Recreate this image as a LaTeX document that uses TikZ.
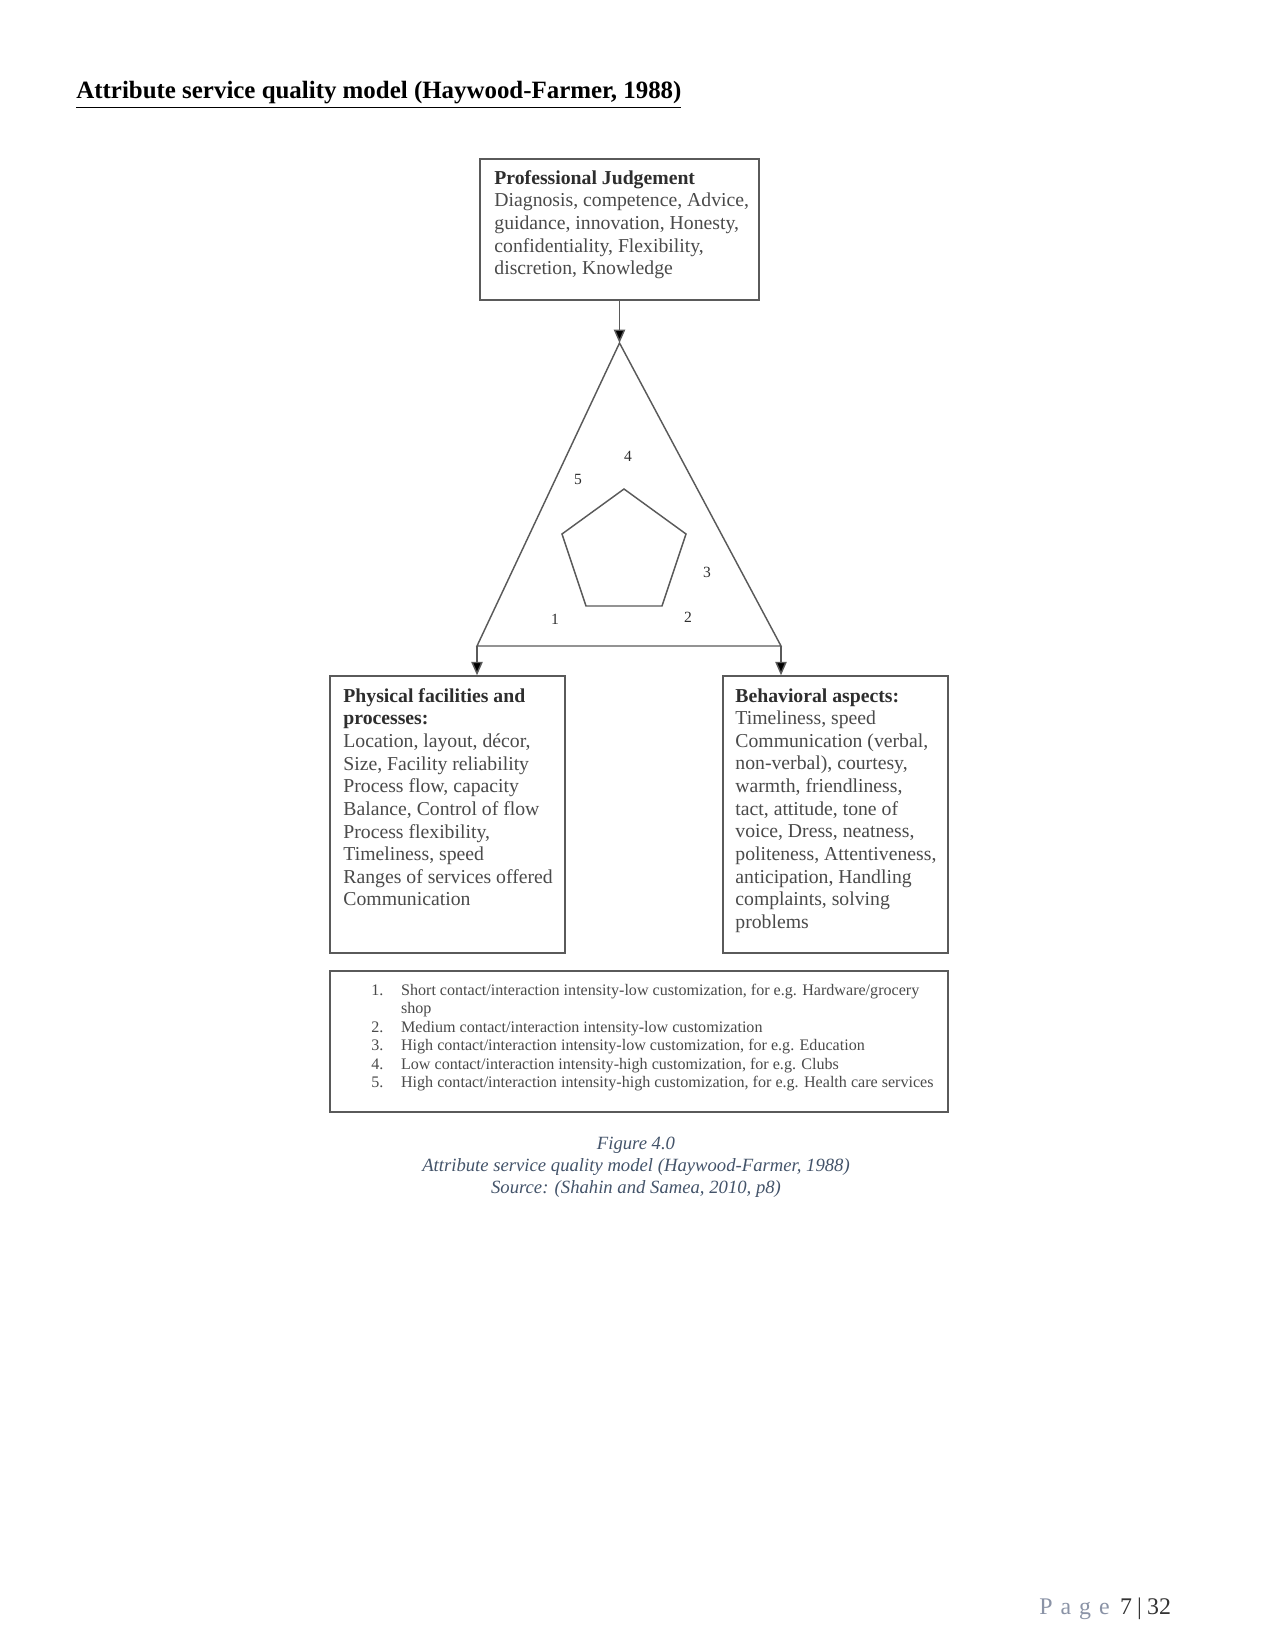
\documentclass[tikz,border=0pt]{standalone}
\usepackage{fontspec}
\setmainfont{Liberation Serif}
\usetikzlibrary{arrows.meta,fit}
\definecolor{boxline}{HTML}{5A5A5A}
\definecolor{bodytext}{HTML}{4A4A4A}
\definecolor{headtext}{HTML}{2E2E2E}
\definecolor{captext}{HTML}{44546A}
\definecolor{pagegray}{HTML}{8A93A6}
\definecolor{pagedark}{HTML}{333333}
\tikzset{
  box/.style={draw=boxline, line width=0.7pt, inner sep=0pt},
  boxtext/.style={inner sep=0pt, anchor=north west, align=left, text=bodytext,
    font=\fontsize{9.5}{10.9}\selectfont},
  shape line/.style={draw=boxline, line width=0.7pt},
  arr/.style={draw=boxline, line width=0.7pt, -{Triangle[length=6.5pt,width=5.5pt,fill=black]}},
  num/.style={inner sep=0pt, text=headtext, font=\fontsize{7.5}{9}\selectfont},
  legend/.style={inner sep=0pt, anchor=north west, align=left, text=bodytext,
    font=\fontsize{7.75}{8.9}\selectfont},
  caption/.style={inner sep=0pt, text=captext, font=\fontsize{9}{11}\selectfont\itshape}
}
\begin{document}
\begin{tikzpicture}[x=0.4818pt,y=-0.4818pt]
\useasboundingbox[fill=white] (0,0) rectangle (1275,1650);

% title
\node[inner sep=0pt, anchor=base west, font=\fontsize{12}{14}\selectfont\bfseries] (title) at (76,99)
  {\underline{Attribute service quality model (Haywood-Farmer, 1988)}};

% boxes
\node[box, fit={(480,159) (759,300)}] (pj) {};
\node[box, fit={(330,676) (565,953)}] (phys) {};
\node[box, fit={(723,676) (948,953)}] (beh) {};
\node[box, fit={(330,971) (948,1112)}] (leg) {};

% box texts
\node[boxtext] (pjtext) at (494,170) {\textcolor{headtext}{\bfseries Professional Judgement}\\
Diagnosis, competence, Advice,\\
guidance, innovation, Honesty,\\
confidentiality, Flexibility,\\
discretion, Knowledge};

\node[boxtext] (phystext) at (343,688) {\textcolor{headtext}{\bfseries Physical facilities and}\\
\textcolor{headtext}{\bfseries processes:}\\
Location, layout, d\'ecor,\\
Size, Facility reliability\\
Process flow, capacity\\
Balance, Control of flow\\
Process flexibility,\\
Timeliness, speed\\
Ranges of services offered\\
Communication};

\node[boxtext] (behtext) at (735,688) {\textcolor{headtext}{\bfseries Behavioral aspects:}\\
Timeliness, speed\\
Communication (verbal,\\
non-verbal), courtesy,\\
warmth, friendliness,\\
tact, attitude, tone of\\
voice, Dress, neatness,\\
politeness, Attentiveness,\\
anticipation, Handling\\
complaints, solving\\
problems};

% legend
\node[legend] (legtext) at (371,982) {%
\begin{tabular}{@{}l@{\hspace{8.5pt}}l@{}}
1. & Short contact/interaction intensity-low customization, for e.g. Hardware/grocery\\
   & shop\\
2. & Medium contact/interaction intensity-low customization\\
3. & High contact/interaction intensity-low customization, for e.g. Education\\
4. & Low contact/interaction intensity-high customization, for e.g. Clubs\\
5. & High contact/interaction intensity-high customization, for e.g. Health care services
\end{tabular}};

% triangle
\coordinate (apex) at (619.5,343);
\coordinate (bl) at (477,646);
\coordinate (br) at (781,646);
\draw[shape line, line join=miter] (apex) -- (bl) -- (br) -- cycle;

% pentagon
\coordinate (p1) at (624,489);
\coordinate (p2) at (562,534);
\coordinate (p3) at (586,606);
\coordinate (p4) at (662,606);
\coordinate (p5) at (686,534);
\draw[shape line] (p1) -- (p2) -- (p3) -- (p4) -- (p5) -- cycle;

% numbers
\node[num] (n1) at (555,619) {1};
\node[num] (n2) at (688,617) {2};
\node[num] (n3) at (707,572) {3};
\node[num] (n4) at (628,456) {4};
\node[num] (n5) at (578,479) {5};

% arrows
\draw[arr] (pj.south) -- (apex);
\draw[arr] (bl) -- (bl |- phys.north);
\draw[arr] (br) -- (br |- beh.north);

% caption
\node[caption] (cap1) at (636,1145) {Figure 4.0};
\node[caption] (cap2) at (636,1167) {Attribute service quality model (Haywood-Farmer, 1988)};
\node[caption] (cap3) at (636,1189) {Source: (Shahin and Samea, 2010, p8)};

% footer
\node[inner sep=0pt, anchor=base west, font=\fontsize{11.5}{13}\selectfont] (footer) at (1039,1614)
  {\textcolor{pagegray}{P\,\,a\,\,g\,\,e}\hspace{5pt}\textcolor{pagedark}{7\hspace{2.5pt}|\hspace{2.5pt}32}};
\end{tikzpicture}
\end{document}
